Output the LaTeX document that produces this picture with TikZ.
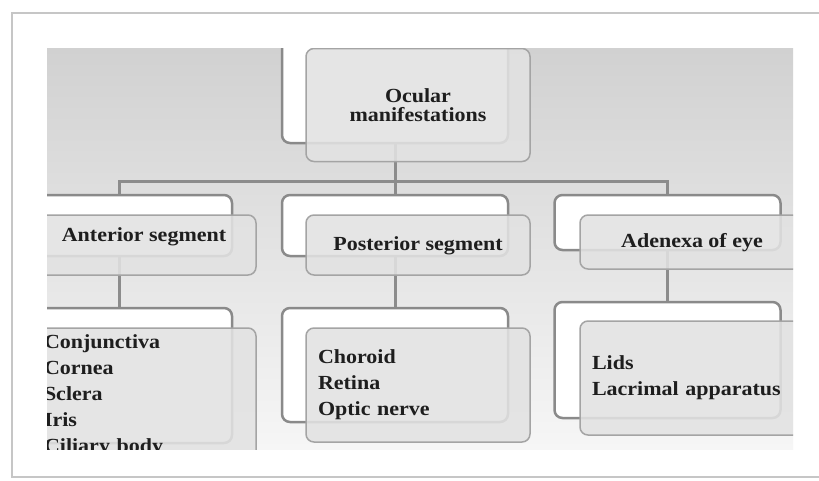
\documentclass[tikz,border=0pt]{standalone}
\usepackage{fontspec}
\setmainfont{Liberation Serif}[FakeStretch=1.1]

\definecolor{framegray}{HTML}{C6C6C6}
\definecolor{bgtop}{HTML}{D1D1D1}
\definecolor{bgbottom}{HTML}{F6F6F6}
\definecolor{backedge}{HTML}{8A8A8A}
\definecolor{frontedge}{HTML}{A4A4A4}
\definecolor{frontfill}{HTML}{E2E2E2}
\definecolor{linkgray}{HTML}{8C8C8C}
\definecolor{inkgray}{HTML}{1E1E1E}

\begin{document}
\begin{tikzpicture}[x=1pt, y=-1pt,
  backbox/.style={rectangle, rounded corners=8pt, draw=backedge, line width=2.5pt, fill=white, minimum width=226pt, inner sep=0pt},
  frontbox/.style={rectangle, rounded corners=8pt, draw=frontedge, line width=1.5pt, fill=frontfill, fill opacity=0.88, text opacity=1, text=inkgray, minimum width=224pt, inner sep=0pt, font=\fontsize{20}{26}\selectfont\bfseries},
  headbox/.style={frontbox, minimum height=60pt, text height=14pt, text depth=4pt},
  listbox/.style={frontbox, align=left, text width=200pt, inner xsep=12pt},
  link/.style={draw=linkgray, line width=3pt}]
  \useasboundingbox (0,0) rectangle (819,480);

  % frame
  \fill[white] (0,0) rectangle (819,480);
  \draw[framegray, line width=2.5pt] (830,13) -- (12,13) -- (12,477) -- (830,477);

  % background
  \shade[top color=bgtop, bottom color=bgbottom] (47,48) rectangle (793,449);

  \begin{scope}
    \clip (47,48) rectangle (793,449);

    % back boxes
    \node[backbox, minimum height=113pt] (ocular-bk) at (395,86.5) {};
    \node[backbox, minimum height=61pt] (anterior-bk) at (119,225.5) {};
    \node[backbox, minimum height=61pt] (posterior-bk) at (395,225.5) {};
    \node[backbox, minimum height=55pt] (adnexa-bk) at (667.5,222.5) {};
    \node[backbox, minimum height=135pt] (antlist-bk) at (119,375.5) {};
    \node[backbox, minimum height=114pt] (postlist-bk) at (395,365) {};
    \node[backbox, minimum height=116pt] (adnlist-bk) at (667.5,360) {};

    % links
    \draw[link] (ocular-bk.south) -- ++(0,37) -| (anterior-bk.north);
    \draw[link] (ocular-bk.south) -- ++(0,37) -| (posterior-bk.north);
    \draw[link] (ocular-bk.south) -- ++(0,37) -| (adnexa-bk.north);
    \draw[link] (anterior-bk.south) -- (antlist-bk.north);
    \draw[link] (posterior-bk.south) -- (postlist-bk.north);
    \draw[link] (adnexa-bk.south) -- (adnlist-bk.north);

    % front boxes
    \node[frontbox, minimum height=113pt, align=center,
      font=\fontsize{20}{19.5}\selectfont\bfseries] (ocular) at (418,105) {Ocular\\manifestations};
    \node[headbox, text depth=21pt] (anterior) at (144,245) {Anterior segment};
    \node[headbox] (posterior) at (418,245) {Posterior segment};
    \node[headbox, minimum height=54pt] (adnexa) at (692,242) {Adenexa of eye};
    \node[listbox, minimum height=135pt] (antlist) at (144,395.5)
      {Conjunctiva\\Cornea\\Sclera\\Iris\\Ciliary body};
    \node[listbox, minimum height=114pt] (postlist) at (418,385)
      {Choroid\\Retina\\Optic nerve};
    \node[listbox, minimum height=114pt] (adnlist) at (692,378)
      {Lids\\Lacrimal apparatus};
  \end{scope}
\end{tikzpicture}
\end{document}
